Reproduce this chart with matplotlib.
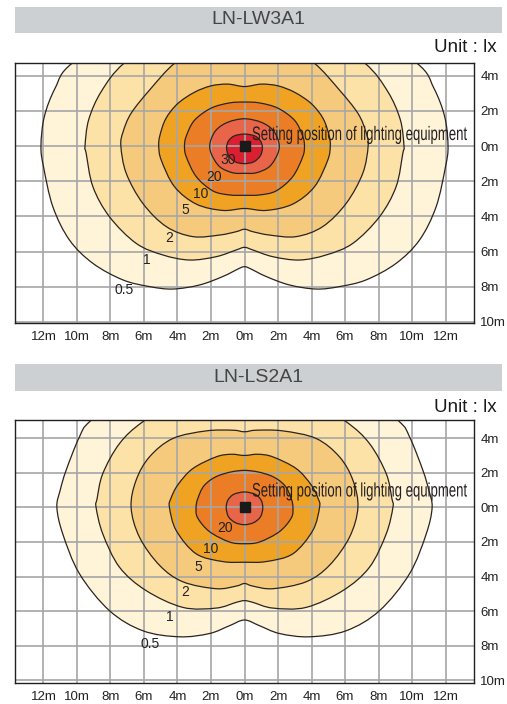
"""Isolux diagrams for two lighting units (LN-LW3A1 / LN-LS2A1)."""
import numpy as np
import matplotlib
matplotlib.use("Agg")
import matplotlib.pyplot as plt  # noqa: E402
from matplotlib.path import Path  # noqa: E402
from matplotlib.patches import PathPatch, Rectangle  # noqa: E402
from matplotlib.textpath import TextPath  # noqa: E402
from matplotlib.font_manager import FontProperties  # noqa: E402
from matplotlib.transforms import Affine2D  # noqa: E402

plt.rcParams["font.family"] = ["Liberation Sans", "DejaVu Sans"]

# ---- data -------------------------------------------------------------
TITLES = ["LN-LW3A1", "LN-LS2A1"]
UNIT = "Unit : lx"
NOTE = "Setting position of lighting equipment"

X_TICKS = [-12, -10, -8, -6, -4, -2, 0, 2, 4, 6, 8, 10, 12]
X_LABELS = ["12m", "10m", "8m", "6m", "4m", "2m", "0m", "2m", "4m", "6m", "8m", "10m", "12m"]
Y_TICKS = [4, 2, 0, -2, -4, -6, -8, -10]
Y_LABELS = ["4m", "2m", "0m", "2m", "4m", "6m", "8m", "10m"]

LEVEL_COLORS = {0.5: "#fff3d8", 1: "#fde2a8", 2: "#f6ca7d", 5: "#f0a323",
                10: "#eb7d26", 20: "#e8654a", 30: "#d91f30"}

# right half of each isolux line (m), from top centre round to bottom centre
LW3A1_30 = [(0, 0.68), (0.6, 0.58), (0.95, 0.3), (1.07, -0.1), (0.95, -0.55), (0.55, -0.9), (0, -1.0)]
LW3A1_20 = [(0, 1.55), (1.0, 1.35), (1.7, 0.9), (2.05, 0.2), (1.99, -0.42), (1.49, -1.17),
            (0.7, -1.52), (0, -1.55)]
LW3A1_10 = [(0, 2.5), (0.9, 2.45), (2.0, 2.15), (3.0, 1.45), (3.48, 0.55), (3.58, 0),
            (3.48, -0.6), (2.88, -1.74), (1.89, -2.55), (0.9, -2.78), (0, -2.8)]
LW3A1_5 = [(0, 3.38), (1.0, 3.52), (2.0, 3.42), (3.0, 3.05), (4.0, 2.4), (4.7, 1.55), (5.05, 0.6),
           (5.12, 0), (4.97, -0.8), (4.18, -2.31), (2.88, -3.3), (1.3, -3.66), (0, -3.55)]
LW3A1_2 = [(0, 5.9), (2.5, 5.6), (4.18, 4.7), (5.67, 3.18), (6.77, 1.86), (7.25, 0.8), (7.38, 0),
           (7.06, -1.55), (6.07, -3.26), (4.67, -4.58), (3.08, -5.15), (1.49, -5.06),
           (0.5, -4.87), (0, -4.73)]
LW3A1_1 = [(0, 7.0), (4.5, 6.4), (7.2, 4.7), (8.55, 3.1), (9.3, 1.5), (9.52, 0), (9.45, -0.42),
           (9.05, -2.31), (8.06, -4.02), (6.47, -5.53), (4.88, -6.19), (3.28, -6.48),
           (1.69, -6.29), (0.5, -5.91), (0, -5.76)]
LW3A1_05 = [(0, 8.0), (6.5, 7.0), (10.3, 4.7), (11.3, 3.3), (11.95, 1.67), (12.15, 0),
            (12.0, -1.17), (11.44, -3.45), (10.45, -5.34), (9.05, -6.67), (7.26, -7.61),
            (5.67, -7.99), (4.28, -8.13), (2.69, -7.9), (1.3, -7.42), (0.3, -6.95), (0, -6.86)]

LS2A1_20 = [(0, 0.89), (0.65, 0.75), (1.0, 0.4), (1.09, -0.05), (0.95, -0.55), (0.55, -0.88), (0, -1.0)]
LS2A1_10 = [(0, 2.14), (1.49, 1.86), (2.39, 1.28), (2.79, 0.5), (2.89, 0), (2.8, -0.6),
            (2.09, -1.4), (0.9, -2.0), (0, -2.1)]
LS2A1_5 = [(0, 3.0), (0.8, 3.07), (1.69, 2.92), (3.09, 2.24), (3.98, 1.3), (4.4, 0.5), (4.48, 0),
           (4.08, -1.33), (2.89, -2.68), (1.3, -3.13), (0, -3.17)]
LS2A1_2 = [(0, 4.37), (0.7, 4.46), (2.29, 4.42), (4.28, 3.98), (5.67, 2.92), (6.47, 1.57), (6.77, 0),
           (6.27, -1.72), (5.07, -3.35), (3.68, -4.3), (1.69, -4.7), (0.5, -4.55), (0, -4.4)]
LS2A1_1 = [(0, 7.0), (3.5, 6.5), (6.07, 4.95), (7.46, 3.69), (8.46, 1.95), (8.8, 0.5), (8.86, 0),
           (8.46, -1.53), (7.46, -3.46), (5.87, -4.81), (3.68, -5.78), (1.69, -5.82),
           (0.5, -5.49), (0, -5.39)]
LS2A1_05 = [(0, 8.5), (6.0, 7.5), (9.15, 5.04), (9.85, 4.08), (10.65, 2.14), (11.0, 1.0), (11.2, 0),
            (10.85, -1.53), (9.85, -3.84), (8.06, -5.97), (6.07, -7.13), (3.88, -7.48),
            (2.09, -7.29), (0.9, -6.84), (0, -6.51)]

LW3A1 = {0.5: LW3A1_05, 1: LW3A1_1, 2: LW3A1_2, 5: LW3A1_5, 10: LW3A1_10, 20: LW3A1_20, 30: LW3A1_30}
LS2A1 = {0.5: LS2A1_05, 1: LS2A1_1, 2: LS2A1_2, 5: LS2A1_5, 10: LS2A1_10, 20: LS2A1_20}

# where the level numbers sit (m)
LW3A1_LABELS = {"30": (-1.0, -0.78), "20": (-1.79, -1.74), "10": (-2.59, -2.74), "5": (-3.52, -3.64),
                "2": (-4.48, -5.25), "1": (-5.81, -6.48), "0.5": (-7.16, -8.18)}
LS2A1_LABELS = {"20": (-1.19, -1.2), "10": (-2.03, -2.4), "5": (-2.75, -3.46),
                "2": (-3.54, -4.91), "1": (-4.48, -6.32), "0.5": (-5.63, -7.87)}

PANELS = [LW3A1, LS2A1]
PANEL_LABELS = [LW3A1_LABELS, LS2A1_LABELS]


def outline_path(half):
    """Mirror a right-half outline and join it as a smooth closed bezier path."""
    pts = np.array(list(half) + [(-x, y) for x, y in reversed(half[1:-1])], dtype=float)
    n = len(pts)
    verts, codes = [pts[0]], [Path.MOVETO]
    for i in range(n):
        p0, p1, p2, p3 = pts[i - 1], pts[i], pts[(i + 1) % n], pts[(i + 2) % n]
        verts += [p1 + (p2 - p0) / 6, p2 - (p3 - p1) / 6, p2]
        codes += [Path.CURVE4] * 3
    return Path(verts, codes)


W, H = 507, 704
fig = plt.figure(figsize=(W / 100, H / 100), dpi=100)

# condensed caption: glyph outlines squeezed to the reference width
note_path = TextPath((0, 0), NOTE, size=1, prop=FontProperties(family="Liberation Sans"))
note_w = note_path.get_extents().x1
NOTE_PX_W, NOTE_PX_EM = 215, 19.5

# pixel boxes: plot top/bottom, header top/bottom, unit text y, ylim, caption baseline (px)
layout = [(63, 323, 7, 33, 48, (-10.06, 4.72), 140),
          (420, 683, 364, 391, 407, (-10.15, 5.05), 496.5)]

for k, (top, bot, htop, hbot, uy, ylim, note_base) in enumerate(layout):
    fig.patches.append(Rectangle((15 / W, 1 - hbot / H), 487 / W, (hbot - htop) / H,
                                 transform=fig.transFigure, facecolor="#cdd0d3",
                                 edgecolor="none", zorder=0))
    fig.text(258.5 / W, 1 - (htop + hbot) / 2 / H, TITLES[k], ha="center", va="center",
             fontsize=14, color="#454545")
    fig.text(497 / W, 1 - uy / H, UNIT, ha="right", va="center", fontsize=13.5, color="#1a1a1a")

    ax = fig.add_axes([15 / W, 1 - bot / H, 459 / W, (bot - top) / H])
    ax.set_xlim(-13.7, 13.7)
    ax.set_ylim(*ylim)

    contours = PANELS[k]
    for lvl in sorted(contours):
        path = outline_path(contours[lvl])
        ax.add_patch(PathPatch(path, facecolor=LEVEL_COLORS[lvl], edgecolor="none", zorder=1))
        ax.add_patch(PathPatch(path, facecolor="none", edgecolor="#2a2420", lw=0.9, zorder=2))

    ax.set_xticks(X_TICKS, X_LABELS)
    ax.set_yticks(Y_TICKS, Y_LABELS)
    ax.yaxis.tick_right()
    ax.tick_params(axis="x", length=0, pad=6, labelsize=9.5, labelcolor="#222222")
    ax.tick_params(axis="y", length=0, pad=4.5, labelsize=9.5, labelcolor="#222222")
    ax.grid(True, color="#a6a6a6", lw=1.2)
    for sp in ax.spines.values():
        sp.set_color("#231f20")
        sp.set_linewidth(1.0)

    for txt, (lx, ly) in PANEL_LABELS[k].items():
        ax.text(lx, ly, txt, ha="center", va="center", fontsize=10, color="#222222", zorder=3)

    ax.plot([0], [0], marker="s", ms=7.5, color="#1a1a1a", zorder=4)

    tr = Affine2D().scale(NOTE_PX_W / note_w, NOTE_PX_EM).translate(252, H - note_base)
    fig.patches.append(PathPatch(note_path, transform=tr, facecolor="#231f20",
                                 edgecolor="none", zorder=5))

fig.savefig("out.png", dpi=100)
